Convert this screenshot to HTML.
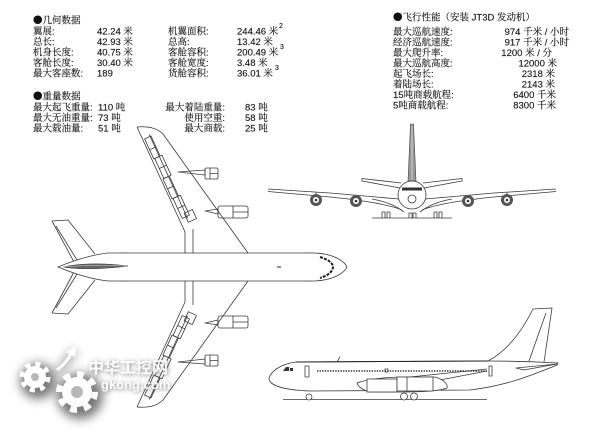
<!DOCTYPE html>
<html><head><meta charset="utf-8">
<style>
html,body{margin:0;padding:0;background:#fff;}
svg{display:block;}
.t{font-family:"Liberation Sans","Noto Serif CJK SC",serif;font-size:9.5px;fill:#111;stroke:#333;stroke-width:0.15;}
.b{font-family:"Noto Sans CJK SC",sans-serif;}
.d{fill:none;stroke:#3a3a3a;stroke-width:0.8;stroke-linejoin:round;}
.f{fill:#fff;stroke:#3a3a3a;stroke-width:0.8;}
</style></head>
<body>
<svg width="600" height="434" viewBox="0 0 600 434" xmlns="http://www.w3.org/2000/svg" xmlns:xlink="http://www.w3.org/1999/xlink">
<defs>
<filter id="bl" x="-40%" y="-40%" width="180%" height="180%"><feGaussianBlur stdDeviation="5"/></filter>
<filter id="bl2" x="-20%" y="-40%" width="140%" height="180%"><feGaussianBlur stdDeviation="2.5"/></filter>
</defs>

<!-- ===== Geometry data ===== -->
<g class="t">
<text x="33" y="23.5"><tspan class="b">●</tspan>几何数据</text>
<text x="33" y="34.5">翼展:</text><text x="97" y="34.5">42.24 米</text>
<text x="33" y="45">总长:</text><text x="97" y="45">42.93 米</text>
<text x="33" y="55.5">机身长度:</text><text x="97" y="55.5">40.75 米</text>
<text x="33" y="66">客舱长度:</text><text x="97" y="66">30.40 米</text>
<text x="33" y="76.5">最大客座数:</text><text x="97" y="76.5">189</text>

<text x="168" y="34.5">机翼面积:</text><text x="237" y="34.5">244.46 米</text><text x="279" y="28" style="font-size:7px">2</text>
<text x="168" y="45">总高:</text><text x="237" y="45">13.42 米</text>
<text x="168" y="55.5">客舱容积:</text><text x="237" y="55.5">200.49 米</text><text x="280" y="49" style="font-size:7px">3</text>
<text x="168" y="66">客舱宽度:</text><text x="237" y="66">3.48 米</text>
<text x="168" y="76.5">货舱容积:</text><text x="237" y="76.5">36.01 米</text><text x="275" y="70" style="font-size:7px">3</text>

<!-- ===== Weight data ===== -->
<text x="33" y="99.5"><tspan class="b">●</tspan>重量数据</text>
<text x="33" y="110.5">最大起飞重量:</text><text x="98" y="110.5">110 吨</text>
<text x="33" y="121">最大无油重量:</text><text x="98" y="121">73 吨</text>
<text x="33" y="131.5">最大载油量:</text><text x="98" y="131.5">51 吨</text>
<text x="225" y="110.5" text-anchor="end">最大着陆重量:</text><text x="245" y="110.5">83 吨</text>
<text x="225" y="121" text-anchor="end">使用空重:</text><text x="245" y="121">58 吨</text>
<text x="225" y="131.5" text-anchor="end">最大商载:</text><text x="245" y="131.5">25 吨</text>

<!-- ===== Flight performance ===== -->
<text x="393" y="20.5"><tspan class="b">●</tspan>飞行性能（安装 JT3D 发动机）</text>
<text x="393" y="35">最大巡航速度:</text><text x="569" y="35" text-anchor="end">974 千米 / 小时</text>
<text x="393" y="45.5">经济巡航速度:</text><text x="569" y="45.5" text-anchor="end">917 千米 / 小时</text>
<text x="393" y="56">最大爬升率:</text><text x="552" y="56" text-anchor="end">1200 米 / 分</text>
<text x="393" y="66.5">最大巡航高度:</text><text x="557" y="66.5" text-anchor="end">12000 米</text>
<text x="393" y="77">起飞场长:</text><text x="555" y="77" text-anchor="end">2318 米</text>
<text x="393" y="87.5">着陆场长:</text><text x="555" y="87.5" text-anchor="end">2143 米</text>
<text x="393" y="98">15吨商载航程:</text><text x="556" y="98" text-anchor="end">6400 千米</text>
<text x="393" y="108.5">5吨商载航程:</text><text x="556" y="108.5" text-anchor="end">8300 千米</text>
</g>

<!-- ===== Top view ===== -->
<g id="half">
  <path class="d" d="M95,254 L68,220 L52,221 L74,262"/>
  <path class="d" d="M56,226 L77,260"/>
  <path class="d" d="M137,127 C148,126 157,128 163,134 L248,253"/>
  <path class="d" d="M137,127 L185,232 L185,253"/>
  <path class="d" d="M193,229 L193,253"/>
  <g transform="translate(137,127) rotate(65.4)" style="stroke-width:0.65">
    <path class="d" d="M12,-8 L104,-8"/>
    <rect class="d" x="14" y="-9" width="22" height="7"/>
    <rect class="d" x="36" y="-11" width="22" height="8"/>
    <rect class="d" x="58" y="-9" width="22" height="7"/>
    <rect class="d" x="80" y="-11" width="22" height="8"/>
    <rect class="d" x="98" y="-16" width="10" height="9"/>
    <path class="d" d="M26,-9 L26,-2 M47,-11 L47,-3 M69,-9 L69,-2 M91,-11 L91,-3"/>
  </g>
  <path class="d" d="M178,172 L205,170 L205,175 Z"/>
  <rect class="d" x="205" y="168" width="13" height="11" rx="1.5"/>
  <path class="d" d="M210,168 L210,179 M210,173.5 L218,173.5"/>
  <path class="d" d="M205,211 L218,209 L218,214 Z"/>
  <rect class="d" x="218" y="206" width="30" height="12" rx="2"/>
  <path class="d" d="M233,206 L233,218 M233,212 L248,212"/>
  <rect class="d" x="122" y="253" width="5" height="4"/>
  <rect class="d" x="305" y="253" width="4" height="4"/>
</g>
<use xlink:href="#half" href="#half" transform="matrix(1 0 0 -1 0 534)"/>
<path class="f" d="M108,253 L315,253 C335,254 345,262 347,267 C345,272 335,280 315,281 L108,281 C90,279 70,272 58,267 C70,262 90,255 108,253 Z"/>
<path d="M63,267 C80,263 105,263 128,266 C105,269 80,270 63,267 Z" fill="#666" stroke="#333" stroke-width="0.5"/>
<path d="M63,267 C85,265 105,265 126,266" fill="none" stroke="#ccc" stroke-width="0.6"/>
<path d="M320,257 C330,260 333,264 333,267 C333,270 330,275 320,278" fill="none" stroke="#222" stroke-width="2" stroke-dasharray="3,1.2"/>
<path d="M277,267 L281,267" stroke="#222" stroke-width="1"/>

<!-- ===== Front view ===== -->
<g>
  <path d="M410.5,124 L413.5,124 L416,181 L408,181 Z" fill="#999" stroke="#444" stroke-width="0.6"/>
  <path d="M412,126 L412,180" stroke="#ddd" stroke-width="0.8"/>
  <path class="d" d="M400,188 L362,181 L362,178.5 L401,183"/>
  <path class="d" d="M424,188 L462,181 L462,178.5 L423,183"/>
  <path class="d" d="M268,189 L330,193 L399,199"/>
  <path class="d" d="M268,191.5 L330,197 C370,201 390,205 402,210"/>
  <path class="d" d="M372,199 C388,202 396,206 404,212"/>
  <path class="d" d="M556,189 L494,193 L425,199"/>
  <path class="d" d="M556,191.5 L494,197 C454,201 434,205 422,210"/>
  <path class="d" d="M452,199 C436,202 428,206 420,212"/>
  <circle class="f" cx="412" cy="195" r="14"/>
  <rect x="402" y="187.5" width="20" height="3" fill="#333"/>
  <circle class="d" cx="412" cy="199" r="4"/>
  <g>
    <path class="d" d="M316,192 L316,195 M356,195 L356,197 M468,195 L468,197 M507,192 L507,195"/>
    <circle cx="316" cy="200" r="6" fill="#555"/><circle cx="316" cy="200" r="3" fill="#fff"/><circle cx="316" cy="200" r="1.3" fill="#333"/>
    <circle cx="356" cy="201" r="6" fill="#555"/><circle cx="356" cy="201" r="3" fill="#fff"/><circle cx="356" cy="201" r="1.3" fill="#333"/>
    <circle cx="468" cy="201" r="6" fill="#555"/><circle cx="468" cy="201" r="3" fill="#fff"/><circle cx="468" cy="201" r="1.3" fill="#333"/>
    <circle cx="507" cy="200" r="6" fill="#555"/><circle cx="507" cy="200" r="3" fill="#fff"/><circle cx="507" cy="200" r="1.3" fill="#333"/>
  </g>
  <path class="d" d="M372,218 L452,218"/>
  <path class="d" d="M382,218 L382,212 L385,212 L385,218 M387,218 L387,212 L390,212 L390,218"/>
  <path class="d" d="M409,218 L409,213 L412,213 L412,218 M413,218 L413,213 L416,213 L416,218"/>
  <path class="d" d="M434,218 L434,212 L437,212 L437,218 M439,218 L439,212 L442,212 L442,218"/>
</g>

<!-- ===== Side view ===== -->
<g>
  <path class="d" d="M488,361 C505,352 520,335 533,309 L552,308 L544,362"/>
  <path class="d" d="M546,313 L529,361"/>
  <path class="f" d="M296,362 L488,361 C505,361 540,362 558,363 L557,365 C530,376 505,386 470,390 L310,391 C285,390 270,386 269,379 C270,372 280,364 296,362 Z"/>
  <path class="d" d="M516,368 L557,364 L524,370 Z"/>
  <path d="M296,362 L488,361" stroke="#222" stroke-width="1"/>
  <path d="M317,371 L487,371" stroke="#333" stroke-width="1.6" stroke-dasharray="1.4,1.2"/>
  <path d="M283,371 L286,367 L289,367 L289,371 Z" fill="#333"/>
  <rect x="290" y="368" width="3" height="3" fill="#333"/>
  <rect class="d" x="305" y="366" width="4" height="11"/>
  <rect class="d" x="489" y="366" width="3" height="10"/>
  <rect class="d" x="385" y="369" width="3" height="3"/>
  <path class="d" d="M337,362 L340,357"/>
  <path class="d" d="M400,378 L487,369"/>
  <path class="d" d="M440,380 L487,371"/>
  <path class="f" d="M357,383 C370,378 390,377 410,377 L435,377 C445,380 448,385 447,388 C440,391 420,392 400,392 L370,392 C362,390 358,386 357,383 Z"/>
  <rect class="f" x="367" y="379" width="30" height="13"/>
  <rect class="f" x="397" y="377" width="36" height="14"/>
  <path class="d" d="M407,377 L407,391"/>
  <path class="d" d="M283,399.5 L487,399.5"/>
  <circle class="f" cx="309" cy="397" r="3"/>
  <circle class="f" cx="404" cy="396.5" r="3.5"/>
  <circle class="f" cx="414" cy="396.5" r="3.5"/>
</g>

<!-- ===== Watermark ===== -->
<g>
  <g filter="url(#bl)" fill="#6a6a6a" opacity="0.9">
    <circle cx="38" cy="381" r="18"/>
    <circle cx="80" cy="396" r="23"/>
    <path d="M58,372 Q68,362 74,350" fill="none" stroke="#6a6a6a" stroke-width="5"/>
  </g>
  <g filter="url(#bl2)" fill="#555" opacity="0.75">
    <text x="89" y="374" style="font-family:'Noto Sans CJK SC','WenQuanYi Zen Hei',sans-serif;font-size:16px;font-weight:bold">中华工控网</text>
    <text x="102" y="390" style="font-family:'Liberation Sans',sans-serif;font-size:13px;font-weight:bold">gkong.com</text>
  </g>
  <g fill="#fff">
    <circle cx="35" cy="377" r="11"/>
    <circle cx="35" cy="377" r="13" fill="none" stroke="#fff" stroke-width="5" stroke-dasharray="5,5.2"/>
    <circle cx="35" cy="377" r="4" fill="#b8b8b8"/>
    <circle cx="77" cy="392" r="15"/>
    <circle cx="77" cy="392" r="18" fill="none" stroke="#fff" stroke-width="6" stroke-dasharray="7,7.1"/>
    <circle cx="77" cy="392" r="6" fill="#b8b8b8"/>
    <path d="M57,370 Q67,363 71,353" fill="none" stroke="#fff" stroke-width="3"/>
    <path d="M66,352 L76,346 L75,357 Z"/>
  </g>
  <text x="88" y="373" style="font-family:'Noto Sans CJK SC','WenQuanYi Zen Hei',sans-serif;font-size:16px;font-weight:bold;fill:#fff">中华工控网</text>
  <text x="101" y="389" style="font-family:'Liberation Sans',sans-serif;font-size:13px;font-weight:bold;fill:#fff">gkong.com</text>
</g>
</svg>
</body></html>
